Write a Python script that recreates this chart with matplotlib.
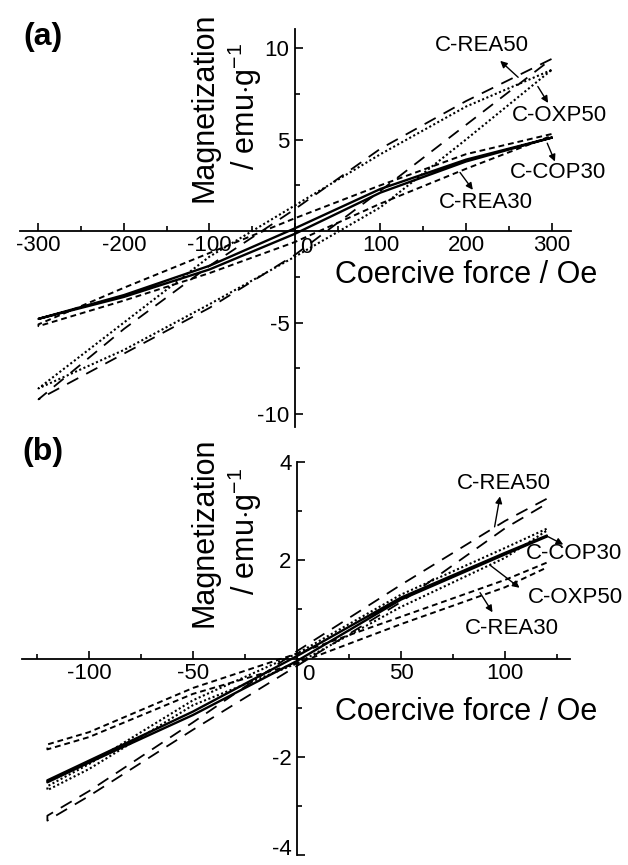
import matplotlib
matplotlib.use("Agg")
import matplotlib.pyplot as plt
from matplotlib.ticker import MultipleLocator

plt.rcParams['font.family'] = ['Liberation Sans', 'DejaVu Sans']
plt.rcParams['mathtext.fontset'] = 'custom'
plt.rcParams['mathtext.rm'] = 'Liberation Sans'
plt.rcParams['mathtext.it'] = 'Liberation Sans'

# (a) field sweep +-300 Oe
field_a = [-300, -200, -100, 0, 100, 200, 300]
cop30_a_up = [-4.8, -3.5, -1.9, 0.15, 2.3, 3.9, 5.1]
cop30_a_dn = [-4.8, -3.6, -2.1, -0.15, 2.1, 3.8, 5.1]
rea30_a_up = [-5.1, -3.1, -1.2, 0.7, 2.5, 4.2, 5.3]
rea30_a_dn = [-5.2, -3.8, -2.3, -0.6, 1.5, 3.4, 5.2]
oxp50_a_up = [-8.6, -5.0, -1.4, 1.4, 4.2, 6.8, 8.8]
oxp50_a_dn = [-8.6, -6.5, -4.0, -1.4, 1.3, 5.0, 8.8]
rea50_a_up = [-9.2, -5.35, -1.9, 1.2, 4.5, 7.1, 9.4]
rea50_a_dn = [-9.2, -6.7, -4.2, -1.3, 2.2, 5.8, 9.4]

# (b) field sweep +-120 Oe
field_b = [-120, -100, -50, 0, 50, 100, 120]
cop30_b_up = [-2.48, -2.08, -1.08, 0.05, 1.24, 2.15, 2.5]
cop30_b_dn = [-2.52, -2.12, -1.15, -0.05, 1.2, 2.12, 2.48]
oxp50_b_up = [-2.6, -2.15, -0.85, 0.1, 1.3, 2.25, 2.64]
oxp50_b_dn = [-2.68, -2.25, -0.95, -0.1, 1.05, 2.05, 2.6]
rea30_b_up = [-1.75, -1.5, -0.6, 0.1, 0.85, 1.6, 1.95]
rea30_b_dn = [-1.85, -1.6, -0.72, -0.1, 0.7, 1.45, 1.85]
rea50_b_up = [-3.2, -2.7, -1.3, 0.15, 1.5, 2.8, 3.25]
rea50_b_dn = [-3.3, -2.8, -1.45, -0.15, 1.15, 2.65, 3.15]

xticks_a = [-300, -200, -100, 0, 100, 200, 300]
yticks_a = [-10, -5, 5, 10]
xticks_b = [-100, -50, 0, 50, 100]
yticks_b = [-4, -2, 2, 4]

styles = {
    'C-COP30': dict(color='k', lw=1.7, ls='-'),
    'C-REA30': dict(color='k', lw=1.4, dashes=(3, 2)),
    'C-OXP50': dict(color='k', lw=1.5, dashes=(1, 1.2)),
    'C-REA50': dict(color='k', lw=1.3, dashes=(7, 5)),
}


def loop(ax, h, up, dn, name):
    # descending branch then ascending branch
    ax.plot(h[::-1] + h, up[::-1] + dn, **styles[name])


def setup_axes(ax, xlim, ylim, xticks, yticks, xminor, yminor):
    ax.set_xlim(*xlim)
    ax.set_ylim(*ylim)
    for s in ['top', 'right']:
        ax.spines[s].set_visible(False)
    ax.spines['left'].set_position(('data', 0))
    ax.spines['bottom'].set_position(('data', 0))
    ax.spines['left'].set_linewidth(1.3)
    ax.spines['bottom'].set_linewidth(1.3)
    ax.set_xticks(xticks)
    ax.set_xticklabels(['' if t == 0 else str(t) for t in xticks])
    ax.set_yticks(yticks)
    ax.set_yticklabels([str(t) for t in yticks])
    ax.xaxis.set_minor_locator(MultipleLocator(xminor))
    ax.yaxis.set_minor_locator(MultipleLocator(yminor))
    ax.tick_params(which='both', direction='in', labelsize=16, width=1.2)
    ax.tick_params(which='major', length=6)
    ax.tick_params(which='minor', length=3.5)
    ax.tick_params(axis='x', pad=3)
    ax.tick_params(axis='y', pad=4)
    ax.patch.set_visible(False)
    ax.annotate('0', xy=(0, 0), xytext=(8, -4), textcoords='offset points',
                ha='center', va='top', fontsize=16)


def arrow(ax, tail, head):
    ax.annotate('', xy=head, xytext=tail,
                arrowprops=dict(arrowstyle='-|>', color='k', lw=1.0,
                                mutation_scale=10, shrinkA=0, shrinkB=0))


fig = plt.figure(figsize=(6.28, 8.65), dpi=100)
W, H = 628.0, 865.0

# panel (a)
ax1 = fig.add_axes([20 / W, 1 - 427 / H, 551 / W, 398 / H])
setup_axes(ax1, (-321.6, 322.8), (-10.71, 11.04), xticks_a, yticks_a, 50, 2.5)
loop(ax1, field_a, cop30_a_up, cop30_a_dn, 'C-COP30')
loop(ax1, field_a, rea30_a_up, rea30_a_dn, 'C-REA30')
loop(ax1, field_a, oxp50_a_up, oxp50_a_dn, 'C-OXP50')
loop(ax1, field_a, rea50_a_up, rea50_a_dn, 'C-REA50')

ax1.text(218.7, 10.16, 'C-REA50', fontsize=16, ha='center', va='center')
ax1.text(308.8, 6.34, 'C-OXP50', fontsize=16, ha='center', va='center')
ax1.text(307.6, 3.22, 'C-COP30', fontsize=16, ha='center', va='center')
ax1.text(223.4, 1.58, 'C-REA30', fontsize=16, ha='center', va='center')
arrow(ax1, (261, 8.4), (240, 9.3))
arrow(ax1, (284, 7.9), (296, 7.0))
arrow(ax1, (295, 4.8), (304, 3.8))
arrow(ax1, (193, 3.2), (208, 2.25))

# panel (b)
ax2 = fig.add_axes([22 / W, 1 - 855 / H, 548 / W, 393 / H])
setup_axes(ax2, (-132.2, 131.25), (-4, 4), xticks_b, yticks_b, 25, 1)
# keep the bottom label inside the figure
ax2.get_yticklabels()[0].set_va('baseline')
loop(ax2, field_b, cop30_b_up, cop30_b_dn, 'C-COP30')
loop(ax2, field_b, oxp50_b_up, oxp50_b_dn, 'C-OXP50')
loop(ax2, field_b, rea30_b_up, rea30_b_dn, 'C-REA30')
loop(ax2, field_b, rea50_b_up, rea50_b_dn, 'C-REA50')

ax2.text(99.5, 3.56, 'C-REA50', fontsize=16, ha='center', va='center')
ax2.text(133.0, 2.14, 'C-COP30', fontsize=16, ha='center', va='center')
ax2.text(133.7, 1.24, 'C-OXP50', fontsize=16, ha='center', va='center')
ax2.text(103.4, 0.62, 'C-REA30', fontsize=16, ha='center', va='center')
arrow(ax2, (95, 2.68), (97.6, 3.3))
arrow(ax2, (120.7, 2.48), (128, 2.32))
arrow(ax2, (92.8, 1.9), (107, 1.44))
arrow(ax2, (88, 1.34), (94, 0.94))

# axis titles and panel letters
for cy_mag, cy_unit, cy_x, letter, ly in [(107, 106, 275, '(a)', 37),
                                          (532, 531, 712, '(b)', 452)]:
    fig.text(204 / W, 1 - cy_mag / H, 'Magnetization', rotation=90,
             fontsize=22, ha='center', va='center')
    fig.text(245 / W, 1 - cy_unit / H, r'/ emu$\cdot$g$^{-1}$', rotation=90,
             fontsize=22, ha='center', va='center')
    fig.text(466 / W, 1 - cy_x / H, 'Coercive force / Oe', fontsize=22,
             ha='center', va='center')
    fig.text(43 / W, 1 - ly / H, letter, fontsize=23, fontweight='bold',
             ha='center', va='center')

fig.savefig('out.png', dpi=100)
